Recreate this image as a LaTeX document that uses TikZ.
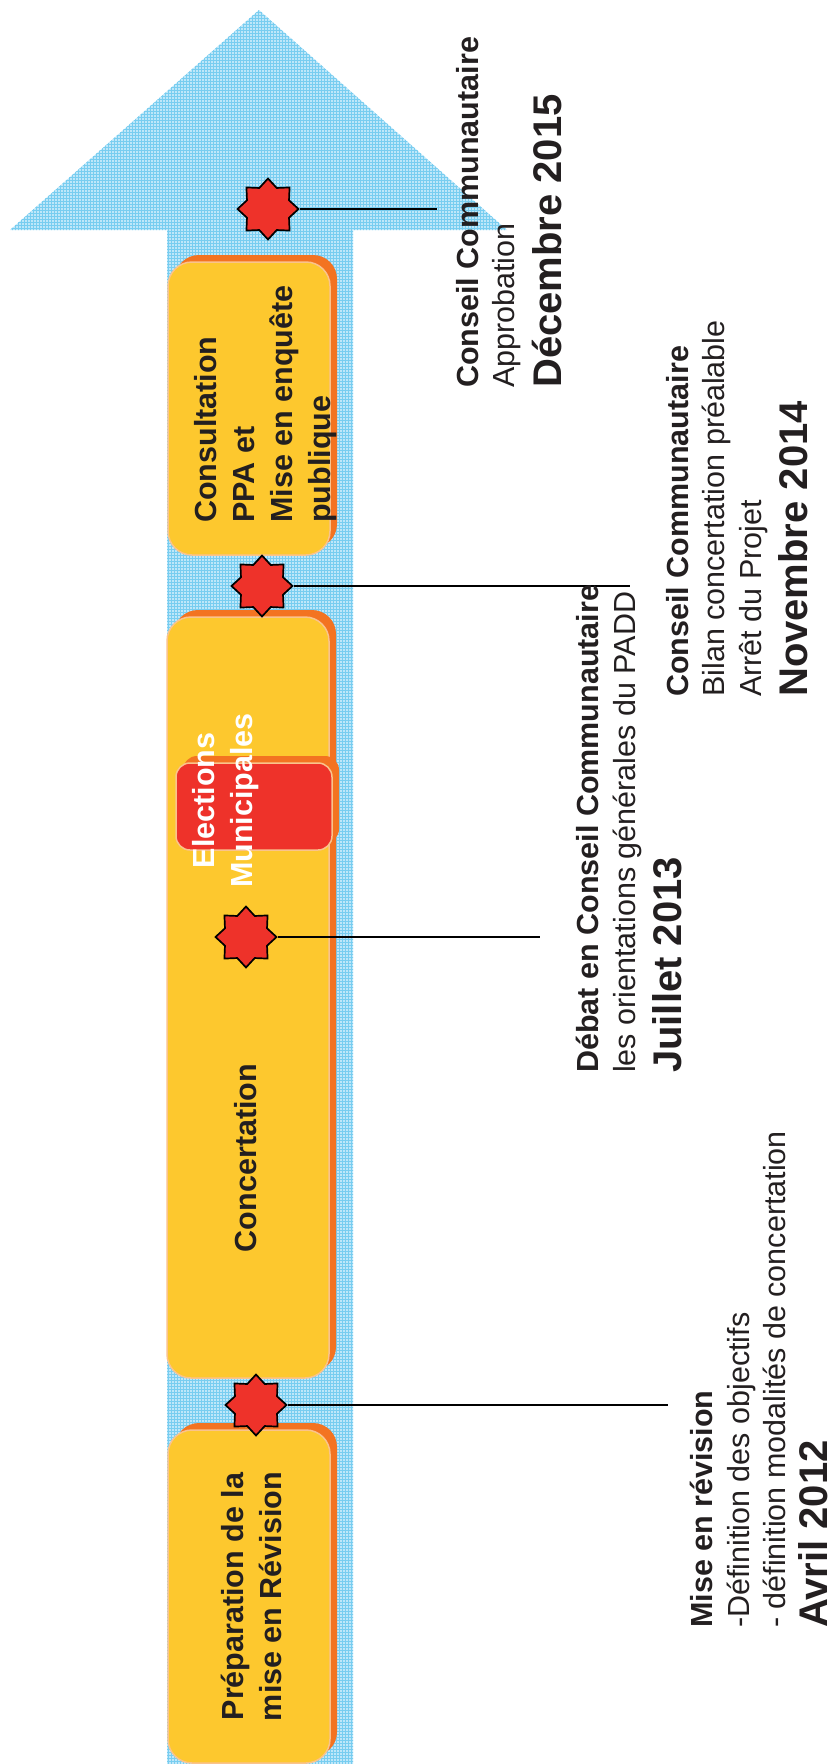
\documentclass[tikz,border=0pt]{standalone}
\usepackage{fontspec}
\setmainfont{Liberation Sans}
\usetikzlibrary{shapes.geometric,shadows,patterns}

\definecolor{shaftblue}{RGB}{190,231,249}
\definecolor{meshblue}{RGB}{120,205,240}
\definecolor{cardyellow}{RGB}{253,200,46}
\definecolor{cardorange}{RGB}{243,115,33}
\definecolor{cardedge}{RGB}{250,195,140}
\definecolor{starred}{RGB}{238,50,42}
\definecolor{inkgrey}{RGB}{35,31,32}

\tikzset{
	card/.style={rectangle, rounded corners=24pt, fill=cardyellow, draw=cardedge, line width=1.5pt,
		copy shadow={shadow xshift=7pt, shadow yshift=7pt, fill=cardorange, draw=none}},
	cardtext/.style={rotate=90, inner sep=0pt, text=inkgrey, font=\bfseries\fontsize{30.5}{38}\selectfont},
	milestone/.style={star, star points=8, star point ratio=1.34, minimum size=61pt, inner sep=0pt,
		fill=starred, draw=black, line width=1.7pt},
	leader/.style={line width=1.7pt, black},
	infotext/.style={rotate=90, inner sep=0pt, align=left, anchor=north west, text=inkgrey,
		font=\fontsize{30.5}{36.5}\selectfont},
}
\newcommand{\bigdate}[1]{{\bfseries\fontsize{40}{48}\selectfont #1}}

\begin{document}
\begin{tikzpicture}[x=1pt, y=-1pt]
			%%%%% FRAME %%%%%
			\useasboundingbox (0,0) rectangle (837,1764);
			
			% big arrow
			\path[fill=shaftblue, postaction={pattern=grid, pattern color=meshblue}]
				(167,1764) -- (167,230) -- (10,230) -- (259,10) -- (507,230) -- (353,230) -- (353,1764) -- cycle;
			
			% phases
			\node[card, minimum width=162pt, minimum height=293pt] (consult) at (249,408.5) {};
			\node[card, minimum width=162pt, minimum height=761pt] (concert) at (248,997.5) {};
			\node[card, minimum width=162pt, minimum height=333pt] (prep) at (249,1596.5) {};
			\node[card, fill=starred, rounded corners=14pt, minimum width=156pt, minimum height=87pt] (elect) at (254,806.5) {};
			
			\node[cardtext, align=left, anchor=north west] (consult-txt) at (194,523) {Consultation\\PPA et\\Mise en enquête\\publique};
			\node[cardtext] (concert-txt) at (246,1158) {Concertation};
			\node[cardtext, align=center, anchor=north] (prep-txt) at (221,1596.5) {Préparation de la\\mise en Révision};
			\node[cardtext, align=center, anchor=north, text=white] (elect-txt) at (192,800.5) {Elections\\Municipales};
			
			% milestones
			\node[milestone] (s15) at (268,209) {};
			\node[milestone] (s14) at (262,586) {};
			\node[milestone] (s13) at (246,937) {};
			\node[milestone] (s12) at (256,1405) {};
			
			\coordinate (e15) at (437,209);
			\coordinate (e14) at (630,586);
			\coordinate (e13) at (540,937);
			\coordinate (e12) at (668,1405);
			
			\draw[leader] (s15.east) -- (e15);
			\draw[leader] (s14.east) -- (e14);
			\draw[leader] (s13.east) -- (e13);
			\draw[leader] (s12.east) -- (e12);
			
			% dates
			\node[infotext] (t15) at (456,388) {\textbf{Conseil Communautaire}\\Approbation\\[10pt]\bigdate{Décembre 2015}};
			\node[infotext] (t14) at (666,697) {\textbf{Conseil Communautaire}\\Bilan concertation préalable\\Arrêt du Projet\\[10pt]\bigdate{Novembre 2014}};
			\node[infotext] (t13) at (576,1073) {\textbf{Débat en Conseil Communautaire}\\les orientations générales du PADD\\[10pt]\bigdate{Juillet 2013}};
			\node[infotext] (t12) at (690,1628) {\textbf{Mise en révision}\\-Définition des objectifs\\- définition modalités de concertation\\[5pt]\bigdate{Avril 2012}};
			
			%%%%% END %%%%%
\end{tikzpicture}
\end{document}
